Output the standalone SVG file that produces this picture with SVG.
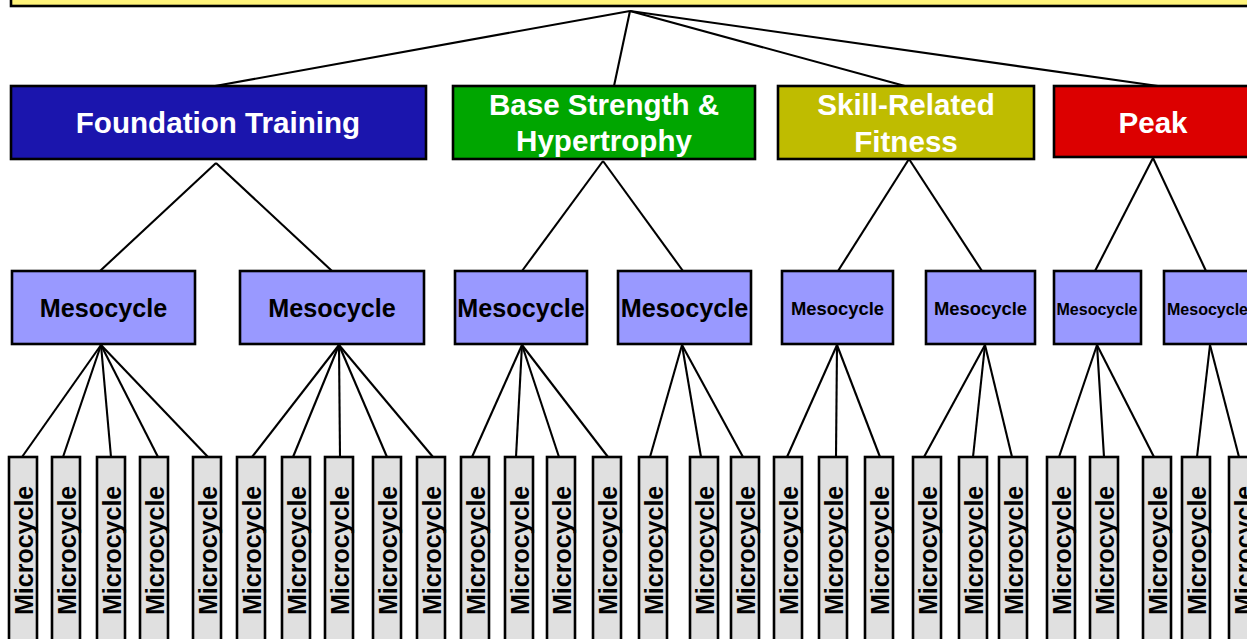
<svg xmlns="http://www.w3.org/2000/svg" width="1247" height="639" viewBox="0 0 1247 639">
<style>
.box{stroke:#000;stroke-width:2.6}
.l1t{font-family:"Liberation Sans",Arial,sans-serif;font-weight:bold;font-size:29.6px;fill:#fff;text-anchor:middle}
.mt{font-family:"Liberation Sans",Arial,sans-serif;font-weight:bold;fill:#000;text-anchor:middle}
.meso{fill:#9999FF}
.micro{fill:#E0E0E0}
.mct{font-family:"Liberation Sans",Arial,sans-serif;font-weight:bold;font-size:25px;fill:#000}
#connectors line{stroke:#000;stroke-width:2.1}
</style>
<rect width="1247" height="639" fill="#fff"/>
<g id="connectors">
<line x1="630" y1="11" x2="215" y2="86"/>
<line x1="630" y1="11" x2="614" y2="86"/>
<line x1="630" y1="11" x2="905" y2="86"/>
<line x1="630" y1="11" x2="1158" y2="86"/>
<line x1="216" y1="163" x2="100" y2="271"/>
<line x1="216" y1="163" x2="332" y2="271"/>
<line x1="603" y1="161" x2="522" y2="271"/>
<line x1="603" y1="161" x2="683" y2="271"/>
<line x1="909" y1="159" x2="838" y2="271"/>
<line x1="909" y1="159" x2="982" y2="271"/>
<line x1="1153" y1="158" x2="1095" y2="271"/>
<line x1="1153" y1="158" x2="1206" y2="271"/>
<line x1="101" y1="345" x2="22" y2="457"/>
<line x1="101" y1="345" x2="63" y2="457"/>
<line x1="101" y1="345" x2="111" y2="457"/>
<line x1="101" y1="345" x2="158" y2="457"/>
<line x1="101" y1="345" x2="208" y2="457"/>
<line x1="339" y1="345" x2="252" y2="457"/>
<line x1="339" y1="345" x2="293" y2="457"/>
<line x1="339" y1="345" x2="340" y2="457"/>
<line x1="339" y1="345" x2="387" y2="457"/>
<line x1="339" y1="345" x2="433" y2="457"/>
<line x1="522" y1="345" x2="472" y2="457"/>
<line x1="522" y1="345" x2="516" y2="457"/>
<line x1="522" y1="345" x2="559" y2="457"/>
<line x1="522" y1="345" x2="608" y2="457"/>
<line x1="682" y1="345" x2="650" y2="457"/>
<line x1="682" y1="345" x2="701" y2="457"/>
<line x1="682" y1="345" x2="743" y2="457"/>
<line x1="837" y1="345" x2="787" y2="457"/>
<line x1="837" y1="345" x2="836" y2="457"/>
<line x1="837" y1="345" x2="880" y2="457"/>
<line x1="985" y1="345" x2="924" y2="457"/>
<line x1="985" y1="345" x2="973" y2="457"/>
<line x1="985" y1="345" x2="1012" y2="457"/>
<line x1="1097" y1="345" x2="1059" y2="457"/>
<line x1="1097" y1="345" x2="1104" y2="457"/>
<line x1="1097" y1="345" x2="1154" y2="457"/>
<line x1="1210" y1="345" x2="1197" y2="457"/>
<line x1="1210" y1="345" x2="1239" y2="457"/>
</g>
<g id="top"><rect class="box" x="11" y="-40" width="1260" height="46" fill="#FFF47A"/></g>
<g id="foundation"><rect class="box" x="11" y="86" width="415" height="73" fill="#1B15AD"/><text class="l1t" x="218" y="133">Foundation Training</text></g>
<g id="base"><rect class="box" x="453" y="86" width="302" height="73" fill="#00A600"/><text class="l1t" x="604" y="115">Base Strength &amp;</text><text class="l1t" x="604" y="151">Hypertrophy</text></g>
<g id="skill"><rect class="box" x="778" y="86" width="256" height="73" fill="#BFBC00"/><text class="l1t" x="906" y="115">Skill-Related</text><text class="l1t" x="906" y="152">Fitness</text></g>
<g id="peak"><rect class="box" x="1054" y="86" width="198" height="71" fill="#DC0000"/><text class="l1t" x="1153" y="133">Peak</text></g>
<g id="meso1"><rect class="box meso" x="12" y="271" width="183" height="73"/><text class="mt" x="103.5" y="317" font-size="25.2">Mesocycle</text></g>
<g id="meso2"><rect class="box meso" x="240" y="271" width="184" height="73"/><text class="mt" x="332" y="317" font-size="25.2">Mesocycle</text></g>
<g id="meso3"><rect class="box meso" x="455" y="271" width="132" height="73"/><text class="mt" x="521" y="317" font-size="25.2">Mesocycle</text></g>
<g id="meso4"><rect class="box meso" x="618" y="271" width="133" height="73"/><text class="mt" x="684.5" y="317" font-size="25.2">Mesocycle</text></g>
<g id="meso5"><rect class="box meso" x="782" y="271" width="111" height="73"/><text class="mt" x="837.5" y="315" font-size="18.4">Mesocycle</text></g>
<g id="meso6"><rect class="box meso" x="926" y="271" width="109" height="73"/><text class="mt" x="980.5" y="315" font-size="18.4">Mesocycle</text></g>
<g id="meso7"><rect class="box meso" x="1054" y="271" width="87" height="73"/><text class="mt" x="1097" y="314.5" font-size="16">Mesocycle</text></g>
<g id="meso8"><rect class="box meso" x="1164" y="271" width="87" height="73"/><text class="mt" x="1207.5" y="314.5" font-size="16">Mesocycle</text></g>
<g id="micro1"><rect class="box micro" x="9" y="457" width="28" height="200"/><text class="mct" transform="translate(33.4 615) rotate(-90)">Microcycle</text></g>
<g id="micro2"><rect class="box micro" x="52" y="457" width="28" height="200"/><text class="mct" transform="translate(76.4 615) rotate(-90)">Microcycle</text></g>
<g id="micro3"><rect class="box micro" x="97" y="457" width="28" height="200"/><text class="mct" transform="translate(121.4 615) rotate(-90)">Microcycle</text></g>
<g id="micro4"><rect class="box micro" x="140" y="457" width="28" height="200"/><text class="mct" transform="translate(164.4 615) rotate(-90)">Microcycle</text></g>
<g id="micro5"><rect class="box micro" x="193" y="457" width="28" height="200"/><text class="mct" transform="translate(217.4 615) rotate(-90)">Microcycle</text></g>
<g id="micro6"><rect class="box micro" x="237" y="457" width="28" height="200"/><text class="mct" transform="translate(261.4 615) rotate(-90)">Microcycle</text></g>
<g id="micro7"><rect class="box micro" x="282" y="457" width="28" height="200"/><text class="mct" transform="translate(306.4 615) rotate(-90)">Microcycle</text></g>
<g id="micro8"><rect class="box micro" x="325" y="457" width="28" height="200"/><text class="mct" transform="translate(349.4 615) rotate(-90)">Microcycle</text></g>
<g id="micro9"><rect class="box micro" x="373" y="457" width="28" height="200"/><text class="mct" transform="translate(397.4 615) rotate(-90)">Microcycle</text></g>
<g id="micro10"><rect class="box micro" x="417" y="457" width="28" height="200"/><text class="mct" transform="translate(441.4 615) rotate(-90)">Microcycle</text></g>
<g id="micro11"><rect class="box micro" x="461" y="457" width="28" height="200"/><text class="mct" transform="translate(485.4 615) rotate(-90)">Microcycle</text></g>
<g id="micro12"><rect class="box micro" x="505" y="457" width="28" height="200"/><text class="mct" transform="translate(529.4 615) rotate(-90)">Microcycle</text></g>
<g id="micro13"><rect class="box micro" x="547" y="457" width="28" height="200"/><text class="mct" transform="translate(571.4 615) rotate(-90)">Microcycle</text></g>
<g id="micro14"><rect class="box micro" x="593" y="457" width="28" height="200"/><text class="mct" transform="translate(617.4 615) rotate(-90)">Microcycle</text></g>
<g id="micro15"><rect class="box micro" x="639" y="457" width="28" height="200"/><text class="mct" transform="translate(663.4 615) rotate(-90)">Microcycle</text></g>
<g id="micro16"><rect class="box micro" x="690" y="457" width="28" height="200"/><text class="mct" transform="translate(714.4 615) rotate(-90)">Microcycle</text></g>
<g id="micro17"><rect class="box micro" x="731" y="457" width="28" height="200"/><text class="mct" transform="translate(755.4 615) rotate(-90)">Microcycle</text></g>
<g id="micro18"><rect class="box micro" x="774" y="457" width="28" height="200"/><text class="mct" transform="translate(798.4 615) rotate(-90)">Microcycle</text></g>
<g id="micro19"><rect class="box micro" x="819" y="457" width="28" height="200"/><text class="mct" transform="translate(843.4 615) rotate(-90)">Microcycle</text></g>
<g id="micro20"><rect class="box micro" x="865" y="457" width="28" height="200"/><text class="mct" transform="translate(889.4 615) rotate(-90)">Microcycle</text></g>
<g id="micro21"><rect class="box micro" x="913" y="457" width="28" height="200"/><text class="mct" transform="translate(937.4 615) rotate(-90)">Microcycle</text></g>
<g id="micro22"><rect class="box micro" x="959" y="457" width="28" height="200"/><text class="mct" transform="translate(983.4 615) rotate(-90)">Microcycle</text></g>
<g id="micro23"><rect class="box micro" x="999" y="457" width="28" height="200"/><text class="mct" transform="translate(1023.4 615) rotate(-90)">Microcycle</text></g>
<g id="micro24"><rect class="box micro" x="1047" y="457" width="28" height="200"/><text class="mct" transform="translate(1071.4 615) rotate(-90)">Microcycle</text></g>
<g id="micro25"><rect class="box micro" x="1090" y="457" width="28" height="200"/><text class="mct" transform="translate(1114.4 615) rotate(-90)">Microcycle</text></g>
<g id="micro26"><rect class="box micro" x="1143" y="457" width="28" height="200"/><text class="mct" transform="translate(1167.4 615) rotate(-90)">Microcycle</text></g>
<g id="micro27"><rect class="box micro" x="1182" y="457" width="28" height="200"/><text class="mct" transform="translate(1206.4 615) rotate(-90)">Microcycle</text></g>
<g id="micro28"><rect class="box micro" x="1229" y="457" width="28" height="200"/><text class="mct" transform="translate(1253.4 615) rotate(-90)">Microcycle</text></g>
</svg>
